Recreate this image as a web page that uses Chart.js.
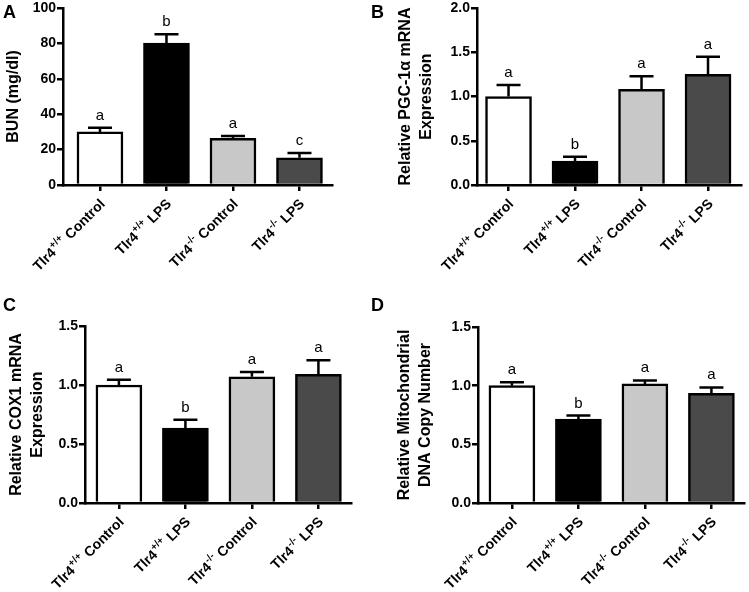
<!DOCTYPE html>
<html lang="en">
<head>
<meta charset="UTF-8">
<title>Tlr4 LPS panels</title>
<script src="https://cdn.jsdelivr.net/npm/chart.js@4.4.0/dist/chart.umd.min.js"></script>
<style>
    body { margin: 0; background: #fff; }
    #wrap { position: relative; width: 749px; height: 592px; overflow: hidden; }
    #wrap canvas { position: absolute; }
    .tag { position: absolute; font: bold 18px 'Liberation Sans', Arial, sans-serif; line-height: 1; color: #000; }
</style>
</head>
<body>
<div id="wrap">
    <canvas id="chartA" width="374" height="296" style="left:0;top:0"></canvas>
    <canvas id="chartB" width="375" height="296" style="left:374px;top:0"></canvas>
    <canvas id="chartC" width="374" height="296" style="left:0;top:296px"></canvas>
    <canvas id="chartD" width="375" height="296" style="left:374px;top:296px"></canvas>
    <div class="tag" style="left:3px;top:3px">A</div>
    <div class="tag" style="left:371px;top:3px">B</div>
    <div class="tag" style="left:3px;top:296px">C</div>
    <div class="tag" style="left:371px;top:296px">D</div>
</div>
<script>
// groups along the x axis
const genes = ['Tlr4', 'Tlr4', 'Tlr4', 'Tlr4'];
const genotypes = ['+/+', '+/+', '-/-', '-/-'];
const treatments = ['Control', 'LPS', 'Control', 'LPS'];
const barColors = ['#ffffff', '#000000', '#c8c8c8', '#4a4a4a'];

// A - BUN
const bunMean = [30.0, 80.2, 26.4, 15.4];
const bunErr = [2.3, 4.9, 1.3, 2.7];
const bunLetters = ['a', 'b', 'a', 'c'];
const bunTicks = [0, 20, 40, 60, 80, 100];

// B - PGC-1a mRNA
const pgcMean = [1.0, 0.27, 1.08, 1.25];
const pgcErr = [0.13, 0.05, 0.15, 0.2];
const pgcLetters = ['a', 'b', 'a', 'a'];
const pgcTicks = [0, 0.5, 1.0, 1.5, 2.0];

// C - COX1 mRNA
const coxMean = [1.0, 0.635, 1.07, 1.09];
const coxErr = [0.045, 0.07, 0.04, 0.12];
const coxLetters = ['a', 'b', 'a', 'a'];
const coxTicks = [0, 0.5, 1.0, 1.5];

// D - mtDNA copy number
const mtMean = [1.0, 0.715, 1.015, 0.935];
const mtErr = [0.03, 0.03, 0.03, 0.05];
const mtLetters = ['a', 'b', 'a', 'a'];
const mtTicks = [0, 0.5, 1.0, 1.5];

const FONT = "'Liberation Sans', Arial, sans-serif";
Chart.defaults.font.family = FONT;
Chart.defaults.color = '#000';

// error bars, significance letters and the rotated x labels
const panelMarks = {
    id: 'panelMarks',
    afterDatasetsDraw(chart) {
        const ds = chart.data.datasets[0];
        const meta = chart.getDatasetMeta(0);
        const yScale = chart.scales.y;
        const xScale = chart.scales.x;
        const ctx = chart.ctx;
        ctx.save();
        ctx.strokeStyle = '#000';
        ctx.fillStyle = '#000';
        ctx.lineWidth = 2.5;
        meta.data.forEach((bar, i) => {
            const top = yScale.getPixelForValue(ds.data[i].y + ds.errors[i]);
            ctx.beginPath();
            ctx.moveTo(bar.x, bar.y);
            ctx.lineTo(bar.x, top);
            ctx.moveTo(bar.x - 12, top);
            ctx.lineTo(bar.x + 12, top);
            ctx.stroke();
            ctx.font = '15px ' + FONT;
            ctx.textAlign = 'center';
            ctx.textBaseline = 'alphabetic';
            ctx.fillText(ds.letters[i], bar.x, top - 8);
        });

        // x labels: Tlr4 with superscript genotype, rotated 45 degrees
        const mainFont = 'bold 14px ' + FONT;
        const supFont = 'bold 10px ' + FONT;
        genes.forEach((g, i) => {
            const px = xScale.getPixelForValue(i);
            const rest = ' ' + treatments[i];
            ctx.font = mainFont;
            const w1 = ctx.measureText(g).width;
            const w3 = ctx.measureText(rest).width;
            ctx.font = supFont;
            const w2 = ctx.measureText(genotypes[i]).width + 1;
            ctx.save();
            ctx.translate(px + 3, xScale.top + 17);
            ctx.rotate(-Math.PI / 4);
            ctx.textAlign = 'left';
            ctx.textBaseline = 'middle';
            const x0 = -(w1 + w2 + w3);
            ctx.font = mainFont;
            ctx.fillText(g, x0, 0);
            ctx.font = supFont;
            ctx.fillText(genotypes[i], x0 + w1 + 0.5, -5);
            ctx.font = mainFont;
            ctx.fillText(rest, x0 + w1 + w2, 0);
            ctx.restore();
        });
        ctx.restore();
    }
};

function makePanel(id, mean, err, letters, ticks, decimals, title, box) {
    const canvas = document.getElementById(id);
    const H = canvas.height;
    const W = canvas.width;
    const xMax = 3.5;
    const plotRight = box.axisLeft + (xMax - box.xMin) * 66.5;
    return new Chart(canvas, {
        type: 'bar',
        data: {
            datasets: [{
                data: mean.map((v, i) => ({ x: i, y: v })),
                errors: err,
                letters: letters,
                backgroundColor: barColors,
                borderColor: '#000',
                borderWidth: 2.5,
                barThickness: 46
            }]
        },
        options: {
            responsive: false,
            animation: false,
            layout: { padding: { left: 0, top: box.top, right: W - plotRight, bottom: 0 } },
            plugins: { legend: { display: false }, tooltip: { enabled: false } },
            scales: {
                x: {
                    type: 'linear',
                    offset: false,
                    min: box.xMin,
                    max: xMax,
                    afterBuildTicks: s => { s.ticks = genes.map((g, i) => ({ value: i })); },
                    afterFit: s => { s.height = H - box.bottom; },
                    ticks: { display: false },
                    grid: { offset: false, drawOnChartArea: false, drawTicks: true, tickLength: 6, lineWidth: 2.5, color: '#000' },
                    border: { display: true, color: '#000', width: 2.5 }
                },
                y: {
                    min: ticks[0],
                    max: ticks[ticks.length - 1],
                    afterBuildTicks: s => { s.ticks = ticks.map(v => ({ value: v })); },
                    afterFit: s => { s.width = box.axisLeft; },
                    ticks: {
                        color: '#000',
                        padding: 1,
                        font: { size: 14, weight: 'bold', lineHeight: 1 },
                        callback: v => v.toFixed(decimals)
                    },
                    grid: { drawOnChartArea: false, drawTicks: true, tickLength: 6, lineWidth: 2.5, color: '#000' },
                    border: { display: true, color: '#000', width: 2.5 },
                    title: {
                        display: true,
                        text: title,
                        color: '#000',
                        font: { size: 16, weight: 'bold', lineHeight: 1.3 },
                        padding: { top: box.titlePad, bottom: 0 }
                    }
                }
            }
        },
        plugins: [panelMarks]
    });
}

makePanel('chartA', bunMean, bunErr, bunLetters, bunTicks, 0, 'BUN (mg/dl)',
    { axisLeft: 63, top: 7, bottom: 185, xMin: -0.556, titlePad: 3.6 });
makePanel('chartB', pgcMean, pgcErr, pgcLetters, pgcTicks, 1, ['Relative PGC-1\u03b1 mRNA', 'Expression'],
    { axisLeft: 103, top: 8, bottom: 185, xMin: -0.474, titlePad: 21 });
makePanel('chartC', coxMean, coxErr, coxLetters, coxTicks, 1, ['Relative COX1 mRNA', 'Expression'],
    { axisLeft: 85, top: 30, bottom: 207, xMin: -0.51, titlePad: 6 });
makePanel('chartD', mtMean, mtErr, mtLetters, mtTicks, 1, ['Relative Mitochondrial', 'DNA Copy Number'],
    { axisLeft: 104, top: 31, bottom: 207, xMin: -0.51, titlePad: 20 });
</script>
</body>
</html>
